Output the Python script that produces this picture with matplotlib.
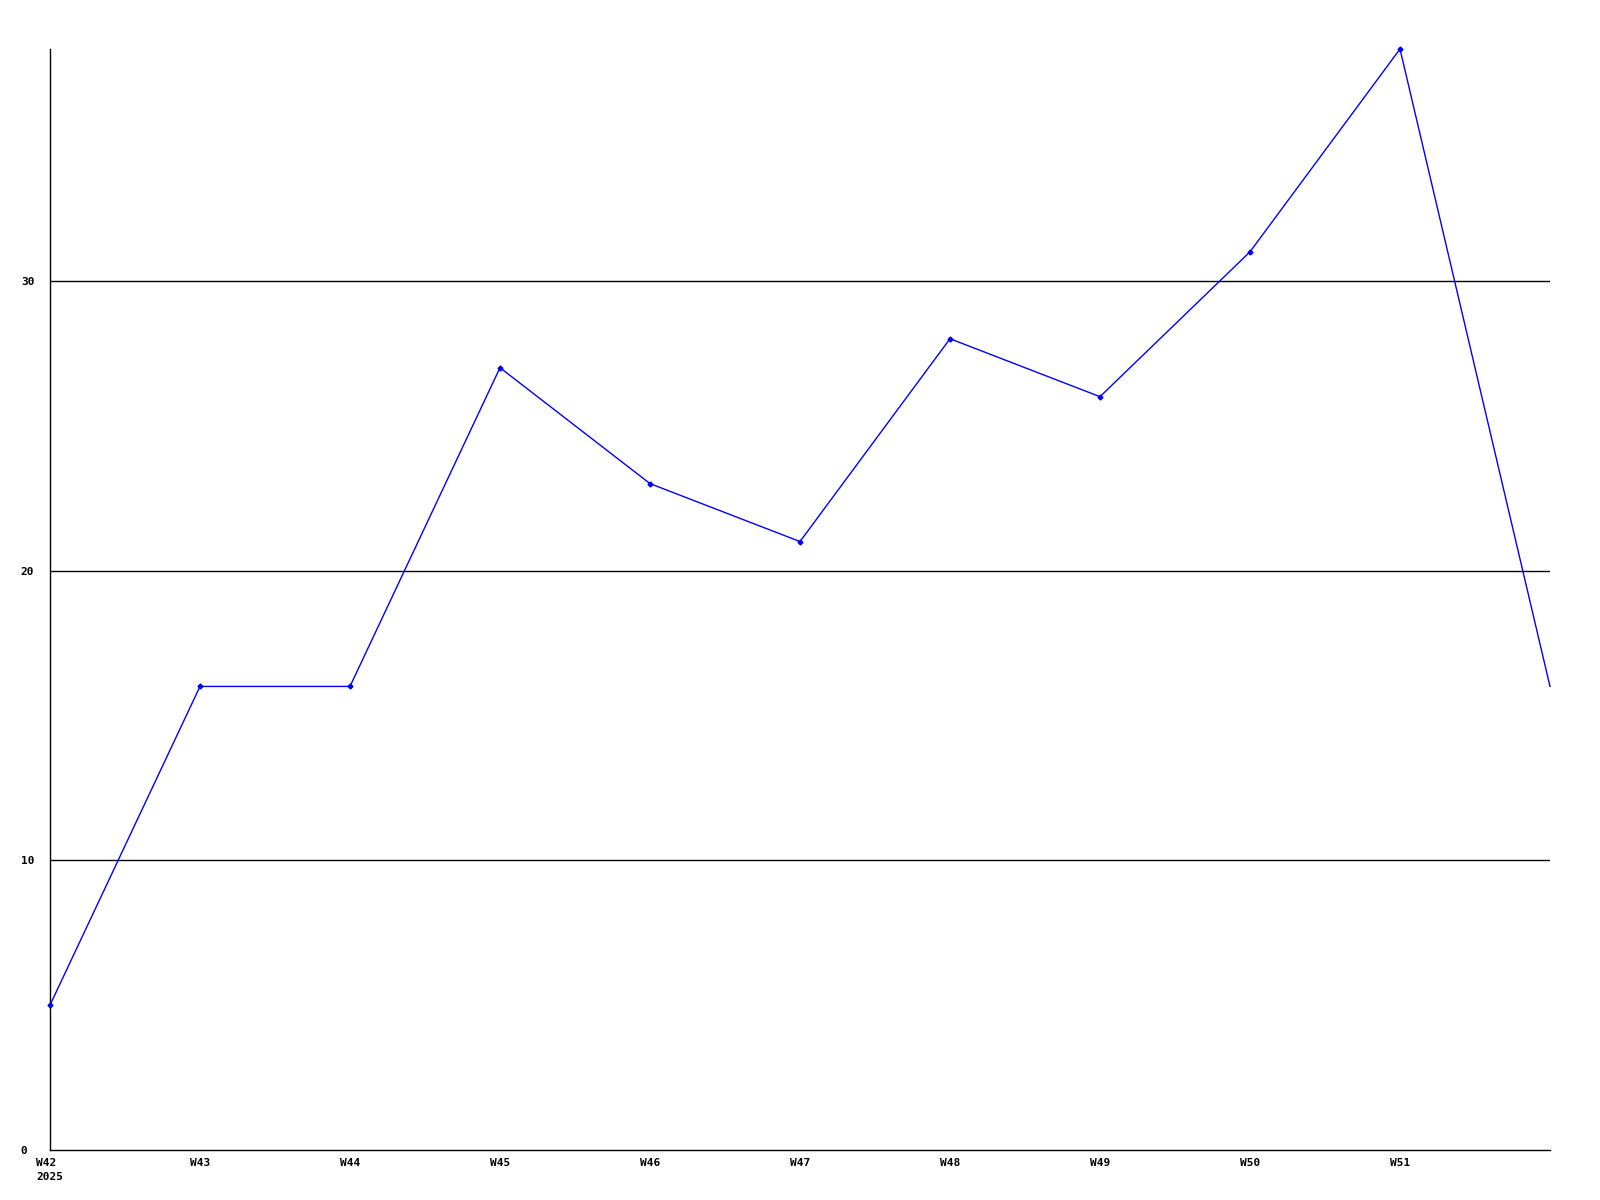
import matplotlib
matplotlib.use("Agg")
import matplotlib.pyplot as plt

weeks = ["W42", "W43", "W44", "W45", "W46", "W47", "W48", "W49", "W50", "W51", "W52"]
values = [5, 16, 16, 27, 23, 21, 28, 26, 31, 38, 16]
tick_labels = ["W42\n2025", "W43", "W44", "W45", "W46", "W47", "W48", "W49", "W50", "W51"]
y_ticks = [0, 10, 20, 30]

fig = plt.figure(figsize=(16, 12), dpi=100)
ax = fig.add_axes([50 / 1600, 1 - 1150 / 1200, 1500 / 1600, 1101 / 1200])

x = list(range(len(weeks)))
for yv in y_ticks[1:]:
    ax.axhline(yv, color="black", linewidth=1.0, zorder=1)
ax.plot(x, values, color="#0000ff", linewidth=1.0, marker="D", markersize=2.5,
        markevery=list(range(len(weeks) - 1)), zorder=3, clip_on=False)

ax.set_xlim(0, len(weeks) - 1)
ax.set_ylim(0, 38)
ax.set_xticks(x[:len(tick_labels)])
ax.set_xticklabels(tick_labels, ha="center", va="top", linespacing=1.5)
ax.set_yticks(y_ticks)
ax.tick_params(axis="x", length=0, labelsize=8, pad=6)
ax.tick_params(axis="y", length=0, labelsize=8, pad=21)
for lbl in ax.get_xticklabels() + ax.get_yticklabels():
    lbl.set_family("DejaVu Sans Mono")
    lbl.set_fontweight("bold")
for lbl in ax.get_yticklabels():
    lbl.set_horizontalalignment("left")
for lbl in ax.get_xticklabels():
    lbl.set_horizontalalignment("center")
ax.get_xticklabels()[0].set_multialignment("left")

ax.spines["top"].set_visible(False)
ax.spines["right"].set_visible(False)
ax.spines["left"].set_linewidth(1.0)
ax.spines["bottom"].set_linewidth(1.0)

fig.savefig("out.png", dpi=100, facecolor="white")
